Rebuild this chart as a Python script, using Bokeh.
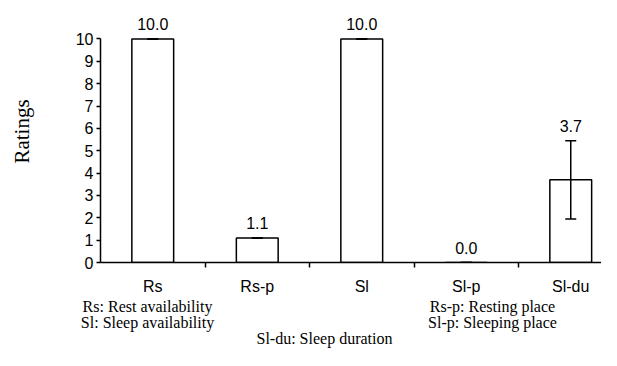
from bokeh.plotting import figure
from bokeh.models import (ColumnDataSource, Range1d, LinearAxis, FixedTicker,
                          Whisker, TeeHead)
from bokeh.core.properties import value
from bokeh.embed import file_html
from bokeh.resources import INLINE

# ---- data ----
categories = ["Rs", "Rs-p", "Sl", "Sl-p", "Sl-du"]
ratings = [10.0, 1.1, 10.0, 0.0, 3.7]
errors = [0.0, 0.0, 0.0, 0.0, 1.75]
y_ticks = [0, 1, 2, 3, 4, 5, 6, 7, 8, 9, 10]
notes_left = ["Rs: Rest availability", "Sl: Sleep availability"]
notes_right = ["Rs-p: Resting place", "Sl-p: Sleeping place"]
note_bottom = "Sl-du: Sleep duration"

SANS = "Liberation Sans"
SERIF = "Liberation Serif"
W, H = 601, 350
PX_PER_CAT = 104.5

xs = [i + 0.5 for i in range(len(categories))]
upper = [v + e for v, e in zip(ratings, errors)]
lower = [v - e for v, e in zip(ratings, errors)]
src = ColumnDataSource(dict(x=xs, top=ratings, upper=upper, lower=lower,
                            label=[f"{v:.1f}" for v in ratings]))

p = figure(width=W, height=H, output_backend="svg", toolbar_location=None,
           x_range=Range1d(0, (W - 100) / PX_PER_CAT), y_range=Range1d(0, 11.72),
           x_axis_type=None, y_axis_type=None,
           min_border_left=100, min_border_right=0, min_border_top=0,
           min_border_bottom=88)
p.outline_line_color = None
p.xgrid.grid_line_color = None
p.ygrid.grid_line_color = None
p.background_fill_color = "white"
p.border_fill_color = "white"

# y axis
yax = LinearAxis(ticker=FixedTicker(ticks=y_ticks), bounds=(0, 10))
yax.axis_line_width = 1.5
yax.major_tick_line_width = 1.5
yax.major_tick_out = 4
yax.major_tick_in = 0
yax.minor_tick_line_color = None
yax.major_label_standoff = 3
yax.major_label_text_font = SANS
yax.major_label_text_font_size = "16px"
yax.major_label_text_color = "black"
yax.axis_label = "Ratings"
yax.axis_label_text_font = SERIF
yax.axis_label_text_font_style = "normal"
yax.axis_label_text_font_size = "21px"
yax.axis_label_text_color = "black"
yax.axis_label_standoff = 39
p.add_layout(yax, "left")

# x axis (labels centred, ticks between categories)
xax = LinearAxis(ticker=FixedTicker(ticks=xs, minor_ticks=[1, 2, 3, 4]))
xax.major_label_overrides = {x: c for x, c in zip(xs, categories)}
xax.axis_line_width = 1.5
xax.major_tick_out = 0
xax.major_tick_in = 0
xax.minor_tick_out = 5
xax.minor_tick_in = 0
xax.minor_tick_line_width = 1.5
xax.minor_tick_line_color = "black"
xax.major_label_standoff = 10
xax.major_label_text_font = SANS
xax.major_label_text_font_size = "16px"
xax.major_label_text_color = "black"
p.add_layout(xax, "below")

# abbreviation key: a second, line-less axis below the category axis
def px_to_x(px):
    return round((px - 100) / PX_PER_CAT, 4)

key_pos = [px_to_x(147), px_to_x(492), px_to_x(324)]
key_text = ["\n".join(notes_left), "\n".join(notes_right), "\n\n" + note_bottom]
kax = LinearAxis(ticker=FixedTicker(ticks=key_pos, minor_ticks=[]))
kax.major_label_overrides = {k: t for k, t in zip(key_pos, key_text)}
kax.axis_line_color = None
kax.major_tick_line_color = None
kax.minor_tick_line_color = None
kax.major_tick_out = 0
kax.major_tick_in = 0
kax.major_label_standoff = 0
kax.major_label_text_font = SERIF
kax.major_label_text_font_size = "16px"
kax.major_label_text_line_height = 0.95
kax.major_label_text_color = "black"
p.add_layout(kax, "below")

# bars
p.vbar(x="x", top="top", bottom=0, width=0.4, source=src,
       fill_color="white", line_color="black", line_width=1.5)

# error bars
wh = Whisker(source=src, base="x", upper="upper", lower="lower",
             dimension="height", line_color="black", line_width=1.5,
             upper_head=TeeHead(size=11, line_width=1.5, line_color="black"),
             lower_head=TeeHead(size=11, line_width=1.5, line_color="black"))
wh.level = "overlay"
p.add_layout(wh)

# value labels
p.text(x="x", y="upper", text="label", source=src, y_offset=-15,
       text_align="center", text_baseline="alphabetic",
       text_font_size="16px", text_font=value(SANS), text_color="black")

open("out.html", "w").write(file_html(p, INLINE))
